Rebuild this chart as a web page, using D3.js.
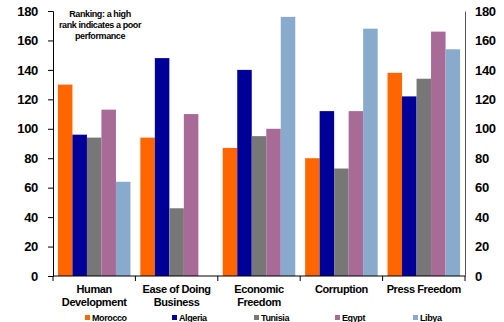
<!DOCTYPE html>
<html>
<head>
<meta charset="utf-8">
<script src="https://cdn.jsdelivr.net/npm/d3@7"></script>
<style>
  body { margin: 0; background: #fff; }
  text { font-family: "Liberation Sans", Arial, sans-serif; font-weight: bold; }
</style>
</head>
<body>
<div id="chart"></div>
<script>
// data
var categories = [["Human", "Development"], ["Ease of Doing", "Business"], ["Economic", "Freedom"], ["Corruption"], ["Press Freedom"]];
var countries = ["Morocco", "Algeria", "Tunisia", "Egypt", "Libya"];
var colors = ["#ff6600", "#000099", "#777777", "#a86b98", "#88aacc"];
var morocco = [130, 94, 87, 80, 138];
var algeria = [96, 148, 140, 112, 122];
var tunisia = [94, 46, 95, 73, 134];
var egypt = [113, 110, 100, 112, 166];
var libya = [64, null, 176, 168, 154];
var yTicks = [0, 20, 40, 60, 80, 100, 120, 140, 160, 180];

var series = [morocco, algeria, tunisia, egypt, libya];

var width = 504, height = 322;
var margin = {top: 11, right: 39, bottom: 46, left: 53};
var innerW = width - margin.left - margin.right,
    innerH = height - margin.top - margin.bottom;

var svg = d3.select("#chart")
  .append("svg")
    .attr("width", width)
    .attr("height", height);

var g = svg.append("g")
    .attr("transform", "translate(" + margin.left + "," + margin.top + ")");

var x0 = d3.scaleBand()
    .domain(d3.range(categories.length))
    .range([0, innerW]);

var x1 = d3.scaleBand()
    .domain(d3.range(countries.length))
    .range([0, x0.bandwidth()])
    .paddingOuter(0.34);

var y = d3.scaleLinear()
    .domain([0, 180])
    .range([innerH, 0]);

// bars
countries.forEach(function(c, i) {
  g.append("g")
    .selectAll("rect")
    .data(series[i].map(function(v, j) { return {v: v, j: j}; }).filter(function(d) { return d.v != null; }))
    .enter()
    .append("rect")
      .attr("x", function(d) { return x0(d.j) + x1(i); })
      .attr("y", function(d) { return y(d.v); })
      .attr("width", x1.bandwidth())
      .attr("height", function(d) { return innerH - y(d.v); })
      .style("fill", colors[i]);
});

// left axis
var yAxisL = g.append("g")
    .call(d3.axisLeft(y).tickValues(yTicks).tickSize(5).tickPadding(10));
yAxisL.select(".domain").attr("stroke", "#000");
yAxisL.selectAll("text").attr("font-size", "13px").attr("fill", "#000")
    .attr("letter-spacing", "-0.3px");

// right axis
var yAxisR = g.append("g")
    .attr("transform", "translate(" + innerW + ",0)")
    .call(d3.axisRight(y).tickValues(yTicks).tickSize(0).tickPadding(10));
yAxisR.select(".domain").attr("stroke", "#555");
yAxisR.selectAll("text").attr("font-size", "13px").attr("fill", "#000")
    .attr("letter-spacing", "-0.3px")
    .attr("text-anchor", "start");

// x axis
var xAxis = g.append("g")
    .attr("transform", "translate(0," + innerH + ")");
xAxis.append("line")
    .attr("x1", 0).attr("x2", innerW)
    .attr("stroke", "#000");
xAxis.selectAll(".tk")
    .data(d3.range(categories.length + 1))
    .enter()
    .append("line")
      .attr("x1", function(d) { return d * x0.step(); })
      .attr("x2", function(d) { return d * x0.step(); })
      .attr("y1", 0).attr("y2", 5)
      .attr("stroke", "#000");

categories.forEach(function(lines, j) {
  var t = xAxis.append("text")
      .attr("x", x0(j) + x0.bandwidth() / 2)
      .attr("y", 17)
      .attr("text-anchor", "middle")
      .attr("font-size", "11px")
      .attr("letter-spacing", "-0.4px")
      .attr("fill", "#000");
  lines.forEach(function(l, k) {
    t.append("tspan")
      .attr("x", x0(j) + x0.bandwidth() / 2)
      .attr("dy", k === 0 ? 0 : 13)
      .text(l);
  });
});

// annotation
var note = g.append("text")
    .attr("text-anchor", "middle")
    .attr("font-size", "9px")
    .attr("letter-spacing", "-0.4px")
    .attr("fill", "#000");
["Ranking: a high", "rank indicates a poor", "performance"].forEach(function(l, k) {
  note.append("tspan")
    .attr("x", 47)
    .attr("y", 6 + k * 11)
    .text(l);
});

// legend
var legendX = [85, 172, 254, 335, 413];
var legend = svg.append("g");
countries.forEach(function(c, i) {
  legend.append("rect")
    .attr("x", legendX[i])
    .attr("y", 315)
    .attr("width", 5)
    .attr("height", 5)
    .style("fill", colors[i]);
  legend.append("text")
    .attr("x", legendX[i] + 7)
    .attr("y", 321)
    .attr("font-size", "9px")
    .attr("letter-spacing", "-0.4px")
    .attr("fill", "#000")
    .text(c);
});
</script>
</body>
</html>
